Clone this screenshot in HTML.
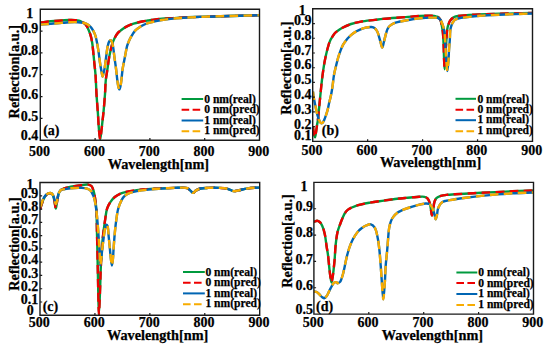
<!DOCTYPE html>
<html><head><meta charset="utf-8"><style>
html,body{margin:0;padding:0;background:#fff;}
svg{display:block;}
text{font-family:"Liberation Serif",serif;font-weight:bold;font-size:14px;fill:#000;stroke:#000;stroke-width:0.25px;}
</style></head><body>
<svg width="550" height="351" viewBox="0 0 550 351">
<rect width="550" height="351" fill="#fff"/>
<clipPath id="clipa"><rect x="40.30" y="6.20" width="219.20" height="134.00"/></clipPath>
<g clip-path="url(#clipa)" fill="none" stroke-width="2.40"><path d="M40.30,22.50 C43.83,22.10 47.34,21.63 50.90,21.30 C54.50,20.96 58.53,20.73 61.80,20.50 C64.48,20.31 66.79,20.06 69.10,20.00 C71.17,19.95 73.23,19.95 75.00,20.10 C76.47,20.22 77.78,20.35 79.00,20.70 C80.09,21.01 81.02,21.48 82.00,22.00 C83.02,22.54 84.16,23.13 85.00,23.90 C85.81,24.64 86.43,25.57 87.00,26.50 C87.57,27.44 87.93,28.42 88.40,29.50 C88.93,30.73 89.52,32.12 90.00,33.50 C90.50,34.94 90.93,36.41 91.30,38.00 C91.71,39.73 92.00,41.50 92.30,43.50 C92.65,45.89 92.90,48.52 93.20,51.40 C93.56,54.85 93.92,58.98 94.30,62.80 C94.69,66.68 95.16,70.09 95.50,74.50 C95.94,80.19 96.10,87.61 96.50,94.10 C96.90,100.51 97.49,107.13 97.90,113.20 C98.28,118.72 98.46,124.30 98.90,129.00 C99.26,132.81 99.76,139.30 100.20,139.30 C100.62,139.30 101.11,133.16 101.50,130.00 C101.91,126.73 102.26,123.01 102.60,120.00 C102.88,117.51 103.11,116.04 103.40,113.20 C103.88,108.44 104.59,99.99 105.00,94.10 C105.35,89.05 105.36,84.29 105.80,80.00 C106.17,76.37 106.77,73.55 107.30,70.00 C107.90,65.97 108.53,60.83 109.20,57.10 C109.71,54.22 110.22,51.91 110.80,49.50 C111.33,47.29 111.81,45.21 112.50,43.20 C113.16,41.28 113.89,39.43 114.80,37.70 C115.69,36.00 116.77,34.21 117.90,32.90 C118.86,31.79 119.87,31.08 121.00,30.20 C122.25,29.24 123.84,28.16 125.10,27.40 C126.10,26.79 126.79,26.42 127.90,25.90 C129.45,25.17 131.48,24.28 133.60,23.60 C136.15,22.78 139.61,22.04 142.20,21.50 C144.31,21.06 146.05,20.81 148.00,20.50 C149.98,20.18 151.87,19.87 154.00,19.60 C156.43,19.29 158.98,19.04 161.80,18.80 C165.13,18.52 169.07,18.33 172.70,18.10 C176.33,17.87 179.60,17.59 183.60,17.40 C188.51,17.17 193.71,17.09 200.00,16.90 C208.50,16.64 220.04,16.28 230.00,16.00 C239.87,15.72 249.67,15.47 259.50,15.20" stroke="#009a3e"/><path d="M40.30,22.50 C43.83,22.10 47.34,21.63 50.90,21.30 C54.50,20.96 58.53,20.73 61.80,20.50 C64.48,20.31 66.79,20.06 69.10,20.00 C71.17,19.95 73.23,19.95 75.00,20.10 C76.47,20.22 77.78,20.35 79.00,20.70 C80.09,21.01 81.02,21.48 82.00,22.00 C83.02,22.54 84.16,23.13 85.00,23.90 C85.81,24.64 86.43,25.57 87.00,26.50 C87.57,27.44 87.93,28.42 88.40,29.50 C88.93,30.73 89.52,32.12 90.00,33.50 C90.50,34.94 90.93,36.41 91.30,38.00 C91.71,39.73 92.00,41.50 92.30,43.50 C92.65,45.89 92.90,48.52 93.20,51.40 C93.56,54.85 93.92,58.98 94.30,62.80 C94.69,66.68 95.16,70.09 95.50,74.50 C95.94,80.19 96.10,87.61 96.50,94.10 C96.90,100.51 97.49,107.13 97.90,113.20 C98.28,118.72 98.46,124.30 98.90,129.00 C99.26,132.81 99.76,139.30 100.20,139.30 C100.62,139.30 101.11,133.16 101.50,130.00 C101.91,126.73 102.26,123.01 102.60,120.00 C102.88,117.51 103.11,116.04 103.40,113.20 C103.88,108.44 104.59,99.99 105.00,94.10 C105.35,89.05 105.36,84.29 105.80,80.00 C106.17,76.37 106.77,73.55 107.30,70.00 C107.90,65.97 108.53,60.83 109.20,57.10 C109.71,54.22 110.22,51.91 110.80,49.50 C111.33,47.29 111.81,45.21 112.50,43.20 C113.16,41.28 113.89,39.43 114.80,37.70 C115.69,36.00 116.77,34.21 117.90,32.90 C118.86,31.79 119.87,31.08 121.00,30.20 C122.25,29.24 123.84,28.16 125.10,27.40 C126.10,26.79 126.79,26.42 127.90,25.90 C129.45,25.17 131.48,24.28 133.60,23.60 C136.15,22.78 139.61,22.04 142.20,21.50 C144.31,21.06 146.05,20.81 148.00,20.50 C149.98,20.18 151.87,19.87 154.00,19.60 C156.43,19.29 158.98,19.04 161.80,18.80 C165.13,18.52 169.07,18.33 172.70,18.10 C176.33,17.87 179.60,17.59 183.60,17.40 C188.51,17.17 193.71,17.09 200.00,16.90 C208.50,16.64 220.04,16.28 230.00,16.00 C239.87,15.72 249.67,15.47 259.50,15.20" stroke="#ee0000" stroke-dasharray="8.6 5.4"/><path d="M40.30,24.60 C43.83,24.37 47.34,24.18 50.90,23.90 C54.51,23.62 58.53,23.18 61.80,22.90 C64.48,22.67 66.57,22.42 69.10,22.30 C71.82,22.17 75.09,22.08 77.60,22.20 C79.61,22.30 81.41,22.49 83.00,22.80 C84.30,23.06 85.40,23.30 86.50,23.80 C87.60,24.30 88.74,25.05 89.60,25.80 C90.37,26.47 90.86,27.11 91.50,28.00 C92.35,29.18 93.41,30.98 94.10,32.40 C94.70,33.63 95.10,34.72 95.50,36.00 C95.94,37.40 96.22,38.67 96.60,40.50 C97.19,43.33 97.94,47.72 98.50,51.40 C99.07,55.15 99.46,59.26 100.00,62.80 C100.47,65.90 101.01,68.99 101.50,71.50 C101.87,73.43 102.21,76.59 102.60,76.60 C102.98,76.61 103.45,73.43 103.80,72.00 C104.10,70.76 104.33,70.01 104.60,68.50 C105.09,65.80 105.57,60.90 106.10,57.10 C106.63,53.30 107.10,48.61 107.80,45.70 C108.25,43.83 108.67,42.12 109.30,41.20 C109.66,40.67 110.11,40.17 110.50,40.20 C110.91,40.23 111.36,40.89 111.70,41.50 C112.24,42.46 112.54,43.94 112.90,45.70 C113.49,48.55 113.88,53.30 114.40,57.10 C114.92,60.90 115.52,64.69 116.00,68.50 C116.48,72.32 116.88,76.79 117.30,80.00 C117.61,82.33 117.78,84.30 118.20,86.00 C118.53,87.31 119.02,89.41 119.40,89.40 C119.78,89.39 120.19,87.31 120.50,86.00 C120.90,84.30 121.09,82.33 121.40,80.00 C121.82,76.79 122.12,72.31 122.70,68.50 C123.28,64.68 124.15,60.90 124.90,57.10 C125.65,53.30 126.33,48.68 127.20,45.70 C127.79,43.70 128.48,42.25 129.10,40.80 C129.61,39.61 129.90,38.84 130.60,37.60 C131.67,35.69 133.43,32.49 135.20,30.60 C136.78,28.92 138.71,27.73 140.50,26.60 C142.15,25.56 143.77,24.72 145.50,24.00 C147.24,23.28 148.77,22.86 150.90,22.30 C153.89,21.52 158.15,20.62 161.80,20.00 C165.42,19.39 169.06,18.97 172.70,18.60 C176.33,18.23 179.60,18.06 183.60,17.80 C188.51,17.49 193.71,17.17 200.00,16.90 C208.50,16.54 220.04,16.28 230.00,16.00 C239.87,15.72 249.67,15.47 259.50,15.20" stroke="#0065b3"/><path d="M40.30,24.60 C43.83,24.37 47.34,24.18 50.90,23.90 C54.51,23.62 58.53,23.18 61.80,22.90 C64.48,22.67 66.57,22.42 69.10,22.30 C71.82,22.17 75.09,22.08 77.60,22.20 C79.61,22.30 81.41,22.49 83.00,22.80 C84.30,23.06 85.40,23.30 86.50,23.80 C87.60,24.30 88.74,25.05 89.60,25.80 C90.37,26.47 90.86,27.11 91.50,28.00 C92.35,29.18 93.41,30.98 94.10,32.40 C94.70,33.63 95.10,34.72 95.50,36.00 C95.94,37.40 96.22,38.67 96.60,40.50 C97.19,43.33 97.94,47.72 98.50,51.40 C99.07,55.15 99.46,59.26 100.00,62.80 C100.47,65.90 101.01,68.99 101.50,71.50 C101.87,73.43 102.21,76.59 102.60,76.60 C102.98,76.61 103.45,73.43 103.80,72.00 C104.10,70.76 104.33,70.01 104.60,68.50 C105.09,65.80 105.57,60.90 106.10,57.10 C106.63,53.30 107.10,48.61 107.80,45.70 C108.25,43.83 108.67,42.12 109.30,41.20 C109.66,40.67 110.11,40.17 110.50,40.20 C110.91,40.23 111.36,40.89 111.70,41.50 C112.24,42.46 112.54,43.94 112.90,45.70 C113.49,48.55 113.88,53.30 114.40,57.10 C114.92,60.90 115.52,64.69 116.00,68.50 C116.48,72.32 116.88,76.79 117.30,80.00 C117.61,82.33 117.78,84.30 118.20,86.00 C118.53,87.31 119.02,89.41 119.40,89.40 C119.78,89.39 120.19,87.31 120.50,86.00 C120.90,84.30 121.09,82.33 121.40,80.00 C121.82,76.79 122.12,72.31 122.70,68.50 C123.28,64.68 124.15,60.90 124.90,57.10 C125.65,53.30 126.33,48.68 127.20,45.70 C127.79,43.70 128.48,42.25 129.10,40.80 C129.61,39.61 129.90,38.84 130.60,37.60 C131.67,35.69 133.43,32.49 135.20,30.60 C136.78,28.92 138.71,27.73 140.50,26.60 C142.15,25.56 143.77,24.72 145.50,24.00 C147.24,23.28 148.77,22.86 150.90,22.30 C153.89,21.52 158.15,20.62 161.80,20.00 C165.42,19.39 169.06,18.97 172.70,18.60 C176.33,18.23 179.60,18.06 183.60,17.80 C188.51,17.49 193.71,17.17 200.00,16.90 C208.50,16.54 220.04,16.28 230.00,16.00 C239.87,15.72 249.67,15.47 259.50,15.20" stroke="#f8ac00" stroke-dasharray="8.6 5.4"/></g>
<path d="M40.30,9.20 H259.50 V140.20 H40.30 Z" fill="none" stroke="#1a1a1a" stroke-width="1.4"/>
<path d="M95.10,140.20 v-2.2 M149.90,140.20 v-2.2 M204.70,140.20 v-2.2 M40.30,118.37 h2.2 M40.30,96.53 h2.2 M40.30,74.70 h2.2 M40.30,52.87 h2.2 M40.30,31.03 h2.2 " stroke="#1a1a1a" stroke-width="1.2" fill="none"/>
<text x="33.30" y="17.60" text-anchor="end">1</text>
<text x="38.30" y="32.60" text-anchor="end">0.9</text>
<text x="38.30" y="54.60" text-anchor="end">0.8</text>
<text x="38.30" y="76.60" text-anchor="end">0.7</text>
<text x="38.30" y="98.60" text-anchor="end">0.6</text>
<text x="38.30" y="120.60" text-anchor="end">0.5</text>
<text x="38.30" y="139.60" text-anchor="end">0.4</text>
<text x="39.60" y="156.00" text-anchor="middle">500</text>
<text x="94.40" y="156.00" text-anchor="middle">600</text>
<text x="149.20" y="156.00" text-anchor="middle">700</text>
<text x="204.00" y="156.00" text-anchor="middle">800</text>
<text x="258.80" y="156.00" text-anchor="middle">900</text>
<text x="107.70" y="169.30" style="font-size:14.25px">Wavelength[nm]</text>
<text transform="translate(19.30,118.40) rotate(-90)" style="font-size:14.25px">Reflection[a.u.]</text>
<text x="43.20" y="135.00">(a)</text>
<line x1="181.60" y1="99.00" x2="203.20" y2="99.00" stroke="#009a3e" stroke-width="2.00"/>
<text x="204.20" y="103.00" style="font-size:11.6px;stroke-width:0.25px">0 nm(real)</text>
<line x1="181.60" y1="109.80" x2="203.20" y2="109.80" stroke="#ee0000" stroke-width="2.00" stroke-dasharray="7.6 3.4"/>
<text x="204.20" y="113.30" style="font-size:11.6px;stroke-width:0.25px">0 nm(pred)</text>
<line x1="181.60" y1="120.50" x2="203.20" y2="120.50" stroke="#0065b3" stroke-width="2.00"/>
<text x="204.20" y="123.50" style="font-size:11.6px;stroke-width:0.25px">1 nm(real)</text>
<line x1="181.60" y1="131.30" x2="203.20" y2="131.30" stroke="#f8ac00" stroke-width="2.00" stroke-dasharray="7.6 3.4"/>
<text x="204.20" y="134.00" style="font-size:11.6px;stroke-width:0.25px">1 nm(pred)</text>
<clipPath id="clipb"><rect x="312.70" y="5.80" width="219.80" height="135.60"/></clipPath>
<g clip-path="url(#clipb)" fill="none" stroke-width="2.40"><path d="M313.00,127.00 C313.33,129.33 313.58,132.11 314.00,134.00 C314.29,135.32 314.68,137.32 315.00,137.30 C315.43,137.28 315.84,133.16 316.20,131.00 C316.58,128.73 316.89,125.86 317.20,124.00 C317.41,122.76 317.60,122.28 317.80,120.90 C318.19,118.21 318.60,112.89 319.00,108.90 C319.40,104.92 319.80,100.98 320.20,97.00 C320.60,93.01 320.98,88.83 321.40,85.00 C321.78,81.49 322.14,78.33 322.60,74.90 C323.07,71.33 323.60,67.46 324.20,64.00 C324.75,60.82 325.34,57.82 326.00,54.90 C326.62,52.17 327.29,49.45 328.00,47.00 C328.63,44.82 329.19,42.73 330.00,40.90 C330.72,39.27 331.63,37.86 332.50,36.50 C333.30,35.24 334.01,34.04 335.00,33.00 C336.01,31.94 337.31,31.05 338.50,30.20 C339.64,29.39 340.53,28.78 342.00,28.00 C344.27,26.79 347.88,25.06 351.00,24.00 C354.17,22.92 357.29,22.25 360.90,21.60 C365.14,20.83 370.90,20.40 374.90,19.90 C377.91,19.53 379.48,19.24 382.80,18.90 C388.43,18.32 398.87,17.65 405.60,17.10 C410.95,16.67 415.48,16.11 420.00,15.90 C424.02,15.72 428.94,15.72 431.40,15.80 C432.57,15.84 433.15,15.87 434.00,16.00 C434.85,16.13 435.74,16.36 436.50,16.60 C437.16,16.81 437.77,16.93 438.30,17.30 C438.88,17.70 439.38,18.37 439.80,19.00 C440.22,19.64 440.53,20.33 440.80,21.10 C441.11,21.97 441.29,23.01 441.50,24.00 C441.72,25.01 441.90,25.86 442.10,27.10 C442.40,28.92 442.78,31.69 443.00,33.90 C443.21,35.99 443.28,37.72 443.40,40.00 C443.55,42.92 443.68,46.67 443.80,50.00 C443.92,53.33 443.96,56.74 444.10,60.00 C444.23,63.13 444.42,69.20 444.60,69.20 C444.78,69.20 445.02,63.13 445.20,60.00 C445.39,56.74 445.50,53.33 445.70,50.00 C445.90,46.67 446.20,42.98 446.40,40.00 C446.56,37.60 446.63,35.47 446.80,33.50 C446.94,31.86 447.10,30.28 447.30,29.00 C447.45,28.04 447.59,27.28 447.80,26.50 C447.99,25.79 448.24,25.23 448.50,24.50 C448.82,23.60 449.13,22.38 449.60,21.50 C450.02,20.71 450.55,20.00 451.10,19.40 C451.60,18.85 452.14,18.43 452.70,18.00 C453.27,17.56 453.77,17.12 454.50,16.80 C455.45,16.39 456.38,16.25 458.00,16.00 C461.53,15.45 468.78,14.96 475.00,14.60 C482.53,14.17 491.12,14.07 500.00,13.80 C510.12,13.50 521.67,13.20 532.50,12.90" stroke="#009a3e"/><path d="M313.00,127.00 C313.33,129.33 313.58,132.11 314.00,134.00 C314.29,135.32 314.68,137.32 315.00,137.30 C315.43,137.28 315.84,133.16 316.20,131.00 C316.58,128.73 316.89,125.86 317.20,124.00 C317.41,122.76 317.60,122.28 317.80,120.90 C318.19,118.21 318.60,112.89 319.00,108.90 C319.40,104.92 319.80,100.98 320.20,97.00 C320.60,93.01 320.98,88.83 321.40,85.00 C321.78,81.49 322.14,78.33 322.60,74.90 C323.07,71.33 323.60,67.46 324.20,64.00 C324.75,60.82 325.34,57.82 326.00,54.90 C326.62,52.17 327.29,49.45 328.00,47.00 C328.63,44.82 329.19,42.73 330.00,40.90 C330.72,39.27 331.63,37.86 332.50,36.50 C333.30,35.24 334.01,34.04 335.00,33.00 C336.01,31.94 337.31,31.05 338.50,30.20 C339.64,29.39 340.53,28.78 342.00,28.00 C344.27,26.79 347.88,25.06 351.00,24.00 C354.17,22.92 357.29,22.25 360.90,21.60 C365.14,20.83 370.90,20.40 374.90,19.90 C377.91,19.53 379.48,19.24 382.80,18.90 C388.43,18.32 398.87,17.65 405.60,17.10 C410.95,16.67 415.48,16.11 420.00,15.90 C424.02,15.72 428.94,15.72 431.40,15.80 C432.57,15.84 433.15,15.87 434.00,16.00 C434.85,16.13 435.74,16.36 436.50,16.60 C437.16,16.81 437.77,16.93 438.30,17.30 C438.88,17.70 439.38,18.37 439.80,19.00 C440.22,19.64 440.53,20.33 440.80,21.10 C441.11,21.97 441.29,23.01 441.50,24.00 C441.72,25.01 441.90,25.86 442.10,27.10 C442.40,28.92 442.78,31.69 443.00,33.90 C443.21,35.99 443.28,37.72 443.40,40.00 C443.55,42.92 443.68,46.67 443.80,50.00 C443.92,53.33 443.96,56.74 444.10,60.00 C444.23,63.13 444.42,69.20 444.60,69.20 C444.78,69.20 445.02,63.13 445.20,60.00 C445.39,56.74 445.50,53.33 445.70,50.00 C445.90,46.67 446.20,42.98 446.40,40.00 C446.56,37.60 446.63,35.47 446.80,33.50 C446.94,31.86 447.10,30.28 447.30,29.00 C447.45,28.04 447.59,27.28 447.80,26.50 C447.99,25.79 448.24,25.23 448.50,24.50 C448.82,23.60 449.13,22.38 449.60,21.50 C450.02,20.71 450.55,20.00 451.10,19.40 C451.60,18.85 452.14,18.43 452.70,18.00 C453.27,17.56 453.77,17.12 454.50,16.80 C455.45,16.39 456.38,16.25 458.00,16.00 C461.53,15.45 468.78,14.96 475.00,14.60 C482.53,14.17 491.12,14.07 500.00,13.80 C510.12,13.50 521.67,13.20 532.50,12.90" stroke="#ee0000" stroke-dasharray="8.6 5.4"/><path d="M313.00,91.60 C313.20,93.40 313.31,95.17 313.60,97.00 C313.90,98.93 314.40,100.92 314.80,102.90 C315.20,104.89 315.57,106.90 316.00,108.90 C316.43,110.90 316.87,113.02 317.40,114.90 C317.88,116.60 318.47,118.36 319.00,119.70 C319.40,120.71 319.72,121.67 320.20,122.30 C320.56,122.76 320.98,123.24 321.40,123.30 C321.78,123.36 322.24,123.10 322.60,122.80 C323.07,122.40 323.38,121.74 323.80,120.90 C324.51,119.48 325.41,116.91 326.10,114.90 C326.78,112.91 327.40,110.91 327.90,108.90 C328.40,106.91 328.65,104.89 329.10,102.90 C329.55,100.92 330.15,98.98 330.60,97.00 C331.05,95.01 331.45,93.00 331.80,91.00 C332.15,89.00 332.38,87.26 332.70,85.00 C333.11,82.07 333.39,78.32 334.00,74.90 C334.64,71.32 335.63,67.46 336.50,64.00 C337.30,60.82 337.97,57.98 339.00,54.90 C340.10,51.61 341.61,47.50 343.00,44.90 C343.97,43.07 344.96,41.86 346.00,40.50 C346.97,39.24 347.88,38.13 349.00,37.00 C350.20,35.79 351.62,34.52 353.00,33.50 C354.30,32.54 355.74,31.68 357.00,31.00 C358.05,30.43 358.83,30.07 360.00,29.60 C361.58,28.97 363.78,28.13 365.70,27.70 C367.58,27.28 369.76,26.82 371.40,27.00 C372.70,27.14 373.86,27.53 374.80,28.20 C375.73,28.87 376.43,30.02 377.00,31.00 C377.54,31.92 377.77,32.68 378.20,33.90 C378.90,35.89 379.79,39.46 380.50,41.90 C381.10,43.96 381.63,47.60 382.20,47.60 C382.77,47.60 383.31,44.03 383.90,41.90 C384.64,39.23 385.44,35.25 386.20,32.80 C386.73,31.08 387.16,29.70 387.80,28.50 C388.33,27.51 388.76,26.79 389.60,26.00 C390.71,24.95 392.24,23.91 394.20,23.10 C397.08,21.91 401.56,21.28 405.60,20.50 C410.11,19.63 415.41,18.68 420.00,18.20 C424.17,17.76 428.79,17.62 432.00,17.60 C434.15,17.59 436.15,17.51 437.40,17.80 C438.11,17.96 438.51,18.18 439.00,18.50 C439.51,18.84 439.97,19.22 440.40,19.80 C440.99,20.59 441.52,21.85 442.00,23.00 C442.53,24.27 443.02,25.79 443.40,27.10 C443.74,28.28 443.98,29.36 444.20,30.50 C444.42,31.63 444.56,32.60 444.70,33.90 C444.88,35.64 444.97,37.72 445.10,40.00 C445.27,42.92 445.40,46.67 445.60,50.00 C445.80,53.33 446.01,56.59 446.30,60.00 C446.60,63.58 447.03,71.00 447.40,71.00 C447.77,71.00 448.23,63.58 448.50,60.00 C448.76,56.59 448.78,53.33 449.00,50.00 C449.22,46.67 449.60,43.21 449.80,40.00 C449.99,37.03 449.99,33.61 450.20,31.40 C450.33,30.00 450.46,29.05 450.70,28.00 C450.91,27.07 451.20,26.24 451.50,25.40 C451.80,24.58 452.12,23.74 452.50,23.00 C452.86,22.31 453.21,21.66 453.70,21.10 C454.20,20.53 454.82,20.02 455.50,19.60 C456.24,19.14 456.71,18.85 458.00,18.50 C461.66,17.49 472.42,16.46 480.00,15.80 C488.06,15.10 496.47,14.88 505.00,14.50 C513.95,14.10 523.33,13.83 532.50,13.50" stroke="#0065b3"/><path d="M313.00,91.60 C313.20,93.40 313.31,95.17 313.60,97.00 C313.90,98.93 314.40,100.92 314.80,102.90 C315.20,104.89 315.57,106.90 316.00,108.90 C316.43,110.90 316.87,113.02 317.40,114.90 C317.88,116.60 318.47,118.36 319.00,119.70 C319.40,120.71 319.72,121.67 320.20,122.30 C320.56,122.76 320.98,123.24 321.40,123.30 C321.78,123.36 322.24,123.10 322.60,122.80 C323.07,122.40 323.38,121.74 323.80,120.90 C324.51,119.48 325.41,116.91 326.10,114.90 C326.78,112.91 327.40,110.91 327.90,108.90 C328.40,106.91 328.65,104.89 329.10,102.90 C329.55,100.92 330.15,98.98 330.60,97.00 C331.05,95.01 331.45,93.00 331.80,91.00 C332.15,89.00 332.38,87.26 332.70,85.00 C333.11,82.07 333.39,78.32 334.00,74.90 C334.64,71.32 335.63,67.46 336.50,64.00 C337.30,60.82 337.97,57.98 339.00,54.90 C340.10,51.61 341.61,47.50 343.00,44.90 C343.97,43.07 344.96,41.86 346.00,40.50 C346.97,39.24 347.88,38.13 349.00,37.00 C350.20,35.79 351.62,34.52 353.00,33.50 C354.30,32.54 355.74,31.68 357.00,31.00 C358.05,30.43 358.83,30.07 360.00,29.60 C361.58,28.97 363.78,28.13 365.70,27.70 C367.58,27.28 369.76,26.82 371.40,27.00 C372.70,27.14 373.86,27.53 374.80,28.20 C375.73,28.87 376.43,30.02 377.00,31.00 C377.54,31.92 377.77,32.68 378.20,33.90 C378.90,35.89 379.79,39.46 380.50,41.90 C381.10,43.96 381.63,47.60 382.20,47.60 C382.77,47.60 383.31,44.03 383.90,41.90 C384.64,39.23 385.44,35.25 386.20,32.80 C386.73,31.08 387.16,29.70 387.80,28.50 C388.33,27.51 388.76,26.79 389.60,26.00 C390.71,24.95 392.24,23.91 394.20,23.10 C397.08,21.91 401.56,21.28 405.60,20.50 C410.11,19.63 415.41,18.68 420.00,18.20 C424.17,17.76 428.79,17.62 432.00,17.60 C434.15,17.59 436.15,17.51 437.40,17.80 C438.11,17.96 438.51,18.18 439.00,18.50 C439.51,18.84 439.97,19.22 440.40,19.80 C440.99,20.59 441.52,21.85 442.00,23.00 C442.53,24.27 443.02,25.79 443.40,27.10 C443.74,28.28 443.98,29.36 444.20,30.50 C444.42,31.63 444.56,32.60 444.70,33.90 C444.88,35.64 444.97,37.72 445.10,40.00 C445.27,42.92 445.40,46.67 445.60,50.00 C445.80,53.33 446.01,56.59 446.30,60.00 C446.60,63.58 447.03,71.00 447.40,71.00 C447.77,71.00 448.23,63.58 448.50,60.00 C448.76,56.59 448.78,53.33 449.00,50.00 C449.22,46.67 449.60,43.21 449.80,40.00 C449.99,37.03 449.99,33.61 450.20,31.40 C450.33,30.00 450.46,29.05 450.70,28.00 C450.91,27.07 451.20,26.24 451.50,25.40 C451.80,24.58 452.12,23.74 452.50,23.00 C452.86,22.31 453.21,21.66 453.70,21.10 C454.20,20.53 454.82,20.02 455.50,19.60 C456.24,19.14 456.71,18.85 458.00,18.50 C461.66,17.49 472.42,16.46 480.00,15.80 C488.06,15.10 496.47,14.88 505.00,14.50 C513.95,14.10 523.33,13.83 532.50,13.50" stroke="#f8ac00" stroke-dasharray="8.6 5.4"/></g>
<path d="M312.70,8.80 H532.50 V141.40 H312.70 Z" fill="none" stroke="#1a1a1a" stroke-width="1.4"/>
<path d="M367.65,141.40 v-2.2 M422.60,141.40 v-2.2 M477.55,141.40 v-2.2 M312.70,126.67 h2.2 M312.70,111.93 h2.2 M312.70,97.20 h2.2 M312.70,82.47 h2.2 M312.70,67.73 h2.2 M312.70,53.00 h2.2 M312.70,38.27 h2.2 M312.70,23.53 h2.2 " stroke="#1a1a1a" stroke-width="1.2" fill="none"/>
<text x="305.80" y="15.30" text-anchor="end">1</text>
<text x="311.60" y="24.80" text-anchor="end">0.9</text>
<text x="311.60" y="39.70" text-anchor="end">0.8</text>
<text x="311.60" y="54.50" text-anchor="end">0.7</text>
<text x="311.60" y="69.40" text-anchor="end">0.6</text>
<text x="311.60" y="84.20" text-anchor="end">0.5</text>
<text x="311.60" y="99.10" text-anchor="end">0.4</text>
<text x="311.60" y="113.90" text-anchor="end">0.3</text>
<text x="311.60" y="128.80" text-anchor="end">0.2</text>
<text x="311.60" y="140.30" text-anchor="end">0.1</text>
<text x="312.00" y="154.80" text-anchor="middle">500</text>
<text x="366.95" y="154.80" text-anchor="middle">600</text>
<text x="421.90" y="154.80" text-anchor="middle">700</text>
<text x="476.85" y="154.80" text-anchor="middle">800</text>
<text x="531.80" y="154.80" text-anchor="middle">900</text>
<text x="379.90" y="167.00" style="font-size:14.25px">Wavelength[nm]</text>
<text transform="translate(290.80,114.80) rotate(-90)" style="font-size:14.25px">Reflection[a.u.]</text>
<text x="321.80" y="134.80">(b)</text>
<line x1="455.50" y1="98.80" x2="476.00" y2="98.80" stroke="#009a3e" stroke-width="2.00"/>
<text x="477.40" y="102.60" style="font-size:11.6px;stroke-width:0.25px">0 nm(real)</text>
<line x1="455.50" y1="109.70" x2="476.00" y2="109.70" stroke="#ee0000" stroke-width="2.00" stroke-dasharray="7.6 3.4"/>
<text x="477.40" y="113.00" style="font-size:11.6px;stroke-width:0.25px">0 nm(pred)</text>
<line x1="455.50" y1="120.20" x2="476.00" y2="120.20" stroke="#0065b3" stroke-width="2.00"/>
<text x="477.40" y="123.40" style="font-size:11.6px;stroke-width:0.25px">1 nm(real)</text>
<line x1="455.50" y1="131.20" x2="476.00" y2="131.20" stroke="#f8ac00" stroke-width="2.00" stroke-dasharray="7.6 3.4"/>
<text x="477.40" y="133.80" style="font-size:11.6px;stroke-width:0.25px">1 nm(pred)</text>
<clipPath id="clipc"><rect x="40.00" y="179.50" width="219.70" height="135.80"/></clipPath>
<g clip-path="url(#clipc)" fill="none" stroke-width="2.40"><path d="M40.20,209.50 C40.63,208.00 41.04,206.50 41.50,205.00 C41.97,203.50 42.41,201.94 43.00,200.50 C43.58,199.11 44.19,197.62 45.00,196.50 C45.72,195.50 46.54,194.55 47.50,194.00 C48.42,193.48 49.72,193.05 50.60,193.20 C51.34,193.33 51.98,193.82 52.50,194.50 C53.24,195.48 53.59,197.41 54.00,199.00 C54.44,200.73 54.68,202.81 55.00,204.50 C55.27,205.94 55.53,208.50 55.80,208.50 C56.07,208.50 56.34,205.94 56.60,204.50 C56.91,202.81 57.15,200.82 57.50,199.00 C57.85,197.19 58.11,195.11 58.70,193.60 C59.18,192.38 59.65,191.35 60.50,190.50 C61.43,189.58 62.75,188.98 64.20,188.40 C66.02,187.67 68.24,187.28 70.70,186.80 C73.85,186.18 78.42,185.58 81.60,185.20 C84.07,184.91 86.41,184.32 88.20,184.60 C89.52,184.81 90.64,185.14 91.50,186.00 C92.55,187.05 93.01,189.00 93.60,190.90 C94.36,193.35 94.85,196.53 95.30,199.60 C95.81,203.02 96.14,206.37 96.40,210.50 C96.74,215.89 96.75,223.11 96.90,229.20 C97.05,235.03 97.16,240.17 97.30,246.30 C97.46,253.42 97.64,262.04 97.80,269.40 C97.94,276.15 98.03,281.88 98.20,288.80 C98.39,296.77 98.58,314.50 98.90,314.50 C99.22,314.50 99.79,296.77 100.10,288.80 C100.37,281.88 100.44,275.38 100.70,269.40 C100.92,264.24 101.17,260.02 101.50,255.00 C101.86,249.50 102.22,243.44 102.80,237.70 C103.38,231.98 104.21,225.78 105.00,220.60 C105.66,216.27 106.00,212.06 107.10,208.70 C107.98,206.02 109.14,203.81 110.50,201.80 C111.74,199.96 113.15,198.36 114.80,197.00 C116.48,195.62 118.57,194.44 120.50,193.60 C122.28,192.82 123.77,192.50 125.90,192.00 C128.89,191.30 133.16,190.58 136.80,190.10 C140.42,189.62 144.06,189.38 147.70,189.10 C151.33,188.82 154.60,188.59 158.60,188.40 C163.51,188.17 170.90,188.07 175.00,187.90 C177.46,187.80 178.89,187.56 180.90,187.60 C183.02,187.64 185.68,187.49 187.40,188.20 C188.79,188.77 189.69,190.07 190.70,190.90 C191.57,191.61 192.25,192.89 193.10,192.90 C194.06,192.91 195.03,191.11 196.20,190.40 C197.47,189.62 198.82,188.92 200.50,188.50 C202.66,187.96 205.41,188.01 208.20,187.90 C211.52,187.77 215.69,187.72 219.10,187.90 C222.14,188.06 225.11,188.19 227.70,188.80 C229.95,189.33 231.80,190.90 233.80,191.10 C235.63,191.28 237.24,190.57 239.20,190.20 C241.54,189.76 244.32,189.00 246.90,188.60 C249.46,188.20 252.29,187.96 254.60,187.80 C256.47,187.67 258.00,187.67 259.70,187.60" stroke="#009a3e"/><path d="M40.20,209.50 C40.63,208.00 41.04,206.50 41.50,205.00 C41.97,203.50 42.41,201.94 43.00,200.50 C43.58,199.11 44.19,197.62 45.00,196.50 C45.72,195.50 46.54,194.55 47.50,194.00 C48.42,193.48 49.72,193.05 50.60,193.20 C51.34,193.33 51.98,193.82 52.50,194.50 C53.24,195.48 53.59,197.41 54.00,199.00 C54.44,200.73 54.68,202.81 55.00,204.50 C55.27,205.94 55.53,208.50 55.80,208.50 C56.07,208.50 56.34,205.94 56.60,204.50 C56.91,202.81 57.15,200.82 57.50,199.00 C57.85,197.19 58.11,195.11 58.70,193.60 C59.18,192.38 59.65,191.35 60.50,190.50 C61.43,189.58 62.75,188.98 64.20,188.40 C66.02,187.67 68.24,187.28 70.70,186.80 C73.85,186.18 78.42,185.58 81.60,185.20 C84.07,184.91 86.41,184.32 88.20,184.60 C89.52,184.81 90.64,185.14 91.50,186.00 C92.55,187.05 93.01,189.00 93.60,190.90 C94.36,193.35 94.85,196.53 95.30,199.60 C95.81,203.02 96.14,206.37 96.40,210.50 C96.74,215.89 96.75,223.11 96.90,229.20 C97.05,235.03 97.16,240.17 97.30,246.30 C97.46,253.42 97.64,262.04 97.80,269.40 C97.94,276.15 98.03,281.88 98.20,288.80 C98.39,296.77 98.58,314.50 98.90,314.50 C99.22,314.50 99.79,296.77 100.10,288.80 C100.37,281.88 100.44,275.38 100.70,269.40 C100.92,264.24 101.17,260.02 101.50,255.00 C101.86,249.50 102.22,243.44 102.80,237.70 C103.38,231.98 104.21,225.78 105.00,220.60 C105.66,216.27 106.00,212.06 107.10,208.70 C107.98,206.02 109.14,203.81 110.50,201.80 C111.74,199.96 113.15,198.36 114.80,197.00 C116.48,195.62 118.57,194.44 120.50,193.60 C122.28,192.82 123.77,192.50 125.90,192.00 C128.89,191.30 133.16,190.58 136.80,190.10 C140.42,189.62 144.06,189.38 147.70,189.10 C151.33,188.82 154.60,188.59 158.60,188.40 C163.51,188.17 170.90,188.07 175.00,187.90 C177.46,187.80 178.89,187.56 180.90,187.60 C183.02,187.64 185.68,187.49 187.40,188.20 C188.79,188.77 189.69,190.07 190.70,190.90 C191.57,191.61 192.25,192.89 193.10,192.90 C194.06,192.91 195.03,191.11 196.20,190.40 C197.47,189.62 198.82,188.92 200.50,188.50 C202.66,187.96 205.41,188.01 208.20,187.90 C211.52,187.77 215.69,187.72 219.10,187.90 C222.14,188.06 225.11,188.19 227.70,188.80 C229.95,189.33 231.80,190.90 233.80,191.10 C235.63,191.28 237.24,190.57 239.20,190.20 C241.54,189.76 244.32,189.00 246.90,188.60 C249.46,188.20 252.29,187.96 254.60,187.80 C256.47,187.67 258.00,187.67 259.70,187.60" stroke="#ee0000" stroke-dasharray="8.6 5.4"/><path d="M40.20,207.00 C40.63,205.83 41.05,204.71 41.50,203.50 C41.98,202.21 42.41,200.77 43.00,199.50 C43.58,198.27 44.20,196.98 45.00,196.00 C45.73,195.11 46.56,194.30 47.50,193.80 C48.43,193.31 49.70,192.80 50.60,193.00 C51.45,193.19 52.22,194.00 52.80,194.80 C53.48,195.75 53.80,197.23 54.20,198.50 C54.61,199.80 54.88,201.50 55.20,202.50 C55.40,203.13 55.58,203.99 55.80,204.00 C56.02,204.01 56.29,203.11 56.50,202.50 C56.80,201.64 57.00,200.53 57.30,199.30 C57.71,197.63 58.00,195.09 58.70,193.40 C59.30,191.97 59.98,190.35 61.00,189.70 C61.88,189.14 62.95,189.48 64.20,189.30 C65.99,189.04 68.25,188.44 70.70,188.20 C73.86,187.89 78.59,187.72 81.60,187.90 C83.75,188.03 85.55,188.19 87.10,188.70 C88.35,189.11 89.35,189.46 90.30,190.40 C91.61,191.69 92.72,194.08 93.60,196.40 C94.66,199.20 95.19,202.53 95.80,206.20 C96.56,210.82 97.02,216.71 97.50,222.00 C97.98,227.31 98.34,232.84 98.70,238.00 C99.04,242.82 99.33,247.37 99.60,252.00 C99.86,256.54 99.94,265.49 100.30,265.50 C100.59,265.51 101.05,259.95 101.40,257.00 C101.78,253.80 102.12,250.24 102.50,247.00 C102.86,243.92 103.23,240.81 103.60,238.00 C103.93,235.52 104.25,233.07 104.60,231.00 C104.89,229.33 105.09,227.66 105.50,226.50 C105.78,225.71 106.15,224.62 106.50,224.60 C106.82,224.58 107.21,225.25 107.50,226.00 C108.25,227.96 108.39,233.75 108.80,237.70 C109.22,241.75 109.64,246.34 110.00,250.00 C110.29,252.95 110.48,255.38 110.80,258.00 C111.11,260.54 111.53,265.50 111.90,265.50 C112.27,265.50 112.73,260.55 113.00,258.00 C113.27,255.38 113.30,252.95 113.50,250.00 C113.75,246.34 114.08,241.56 114.40,237.70 C114.68,234.27 114.98,231.01 115.30,228.00 C115.58,225.36 115.80,223.35 116.20,220.60 C116.71,217.10 117.20,212.30 118.20,208.70 C119.08,205.55 120.49,202.23 121.60,200.10 C122.31,198.73 122.76,197.90 123.70,196.90 C124.82,195.70 126.28,194.49 128.10,193.60 C130.43,192.46 133.72,191.85 136.80,191.20 C140.21,190.48 144.06,190.02 147.70,189.60 C151.33,189.18 154.59,188.96 158.60,188.70 C163.51,188.38 170.90,188.10 175.00,187.90 C177.46,187.78 178.89,187.56 180.90,187.60 C183.02,187.64 185.68,187.49 187.40,188.20 C188.79,188.77 189.69,190.07 190.70,190.90 C191.57,191.61 192.25,192.89 193.10,192.90 C194.06,192.91 195.03,191.11 196.20,190.40 C197.47,189.62 198.82,188.92 200.50,188.50 C202.66,187.96 205.41,188.01 208.20,187.90 C211.52,187.77 215.69,187.72 219.10,187.90 C222.14,188.06 225.11,188.19 227.70,188.80 C229.95,189.33 231.80,190.90 233.80,191.10 C235.63,191.28 237.24,190.57 239.20,190.20 C241.54,189.76 244.32,189.00 246.90,188.60 C249.46,188.20 252.29,187.96 254.60,187.80 C256.47,187.67 258.00,187.67 259.70,187.60" stroke="#0065b3"/><path d="M40.20,207.00 C40.63,205.83 41.05,204.71 41.50,203.50 C41.98,202.21 42.41,200.77 43.00,199.50 C43.58,198.27 44.20,196.98 45.00,196.00 C45.73,195.11 46.56,194.30 47.50,193.80 C48.43,193.31 49.70,192.80 50.60,193.00 C51.45,193.19 52.22,194.00 52.80,194.80 C53.48,195.75 53.80,197.23 54.20,198.50 C54.61,199.80 54.88,201.50 55.20,202.50 C55.40,203.13 55.58,203.99 55.80,204.00 C56.02,204.01 56.29,203.11 56.50,202.50 C56.80,201.64 57.00,200.53 57.30,199.30 C57.71,197.63 58.00,195.09 58.70,193.40 C59.30,191.97 59.98,190.35 61.00,189.70 C61.88,189.14 62.95,189.48 64.20,189.30 C65.99,189.04 68.25,188.44 70.70,188.20 C73.86,187.89 78.59,187.72 81.60,187.90 C83.75,188.03 85.55,188.19 87.10,188.70 C88.35,189.11 89.35,189.46 90.30,190.40 C91.61,191.69 92.72,194.08 93.60,196.40 C94.66,199.20 95.19,202.53 95.80,206.20 C96.56,210.82 97.02,216.71 97.50,222.00 C97.98,227.31 98.34,232.84 98.70,238.00 C99.04,242.82 99.33,247.37 99.60,252.00 C99.86,256.54 99.94,265.49 100.30,265.50 C100.59,265.51 101.05,259.95 101.40,257.00 C101.78,253.80 102.12,250.24 102.50,247.00 C102.86,243.92 103.23,240.81 103.60,238.00 C103.93,235.52 104.25,233.07 104.60,231.00 C104.89,229.33 105.09,227.66 105.50,226.50 C105.78,225.71 106.15,224.62 106.50,224.60 C106.82,224.58 107.21,225.25 107.50,226.00 C108.25,227.96 108.39,233.75 108.80,237.70 C109.22,241.75 109.64,246.34 110.00,250.00 C110.29,252.95 110.48,255.38 110.80,258.00 C111.11,260.54 111.53,265.50 111.90,265.50 C112.27,265.50 112.73,260.55 113.00,258.00 C113.27,255.38 113.30,252.95 113.50,250.00 C113.75,246.34 114.08,241.56 114.40,237.70 C114.68,234.27 114.98,231.01 115.30,228.00 C115.58,225.36 115.80,223.35 116.20,220.60 C116.71,217.10 117.20,212.30 118.20,208.70 C119.08,205.55 120.49,202.23 121.60,200.10 C122.31,198.73 122.76,197.90 123.70,196.90 C124.82,195.70 126.28,194.49 128.10,193.60 C130.43,192.46 133.72,191.85 136.80,191.20 C140.21,190.48 144.06,190.02 147.70,189.60 C151.33,189.18 154.59,188.96 158.60,188.70 C163.51,188.38 170.90,188.10 175.00,187.90 C177.46,187.78 178.89,187.56 180.90,187.60 C183.02,187.64 185.68,187.49 187.40,188.20 C188.79,188.77 189.69,190.07 190.70,190.90 C191.57,191.61 192.25,192.89 193.10,192.90 C194.06,192.91 195.03,191.11 196.20,190.40 C197.47,189.62 198.82,188.92 200.50,188.50 C202.66,187.96 205.41,188.01 208.20,187.90 C211.52,187.77 215.69,187.72 219.10,187.90 C222.14,188.06 225.11,188.19 227.70,188.80 C229.95,189.33 231.80,190.90 233.80,191.10 C235.63,191.28 237.24,190.57 239.20,190.20 C241.54,189.76 244.32,189.00 246.90,188.60 C249.46,188.20 252.29,187.96 254.60,187.80 C256.47,187.67 258.00,187.67 259.70,187.60" stroke="#f8ac00" stroke-dasharray="8.6 5.4"/></g>
<path d="M40.00,182.50 H259.70 V315.30 H40.00 Z" fill="none" stroke="#1a1a1a" stroke-width="1.4"/>
<path d="M94.92,315.30 v-2.2 M149.85,315.30 v-2.2 M204.77,315.30 v-2.2 M40.00,302.02 h2.2 M40.00,288.74 h2.2 M40.00,275.46 h2.2 M40.00,262.18 h2.2 M40.00,248.90 h2.2 M40.00,235.62 h2.2 M40.00,222.34 h2.2 M40.00,209.06 h2.2 M40.00,195.78 h2.2 " stroke="#1a1a1a" stroke-width="1.2" fill="none"/>
<text x="33.50" y="188.80" text-anchor="end">1</text>
<text x="38.30" y="197.50" text-anchor="end">0.9</text>
<text x="38.30" y="210.85" text-anchor="end">0.8</text>
<text x="38.30" y="224.20" text-anchor="end">0.7</text>
<text x="38.30" y="237.55" text-anchor="end">0.6</text>
<text x="38.30" y="250.90" text-anchor="end">0.5</text>
<text x="38.30" y="264.25" text-anchor="end">0.4</text>
<text x="38.30" y="277.60" text-anchor="end">0.3</text>
<text x="38.30" y="290.95" text-anchor="end">0.2</text>
<text x="38.30" y="304.30" text-anchor="end">0.1</text>
<text x="33.80" y="314.70" text-anchor="end">0</text>
<text x="39.30" y="327.20" text-anchor="middle">500</text>
<text x="94.22" y="327.20" text-anchor="middle">600</text>
<text x="149.15" y="327.20" text-anchor="middle">700</text>
<text x="204.07" y="327.20" text-anchor="middle">800</text>
<text x="259.00" y="327.20" text-anchor="middle">900</text>
<text x="107.00" y="339.90" style="font-size:14.25px">Wavelength[nm]</text>
<text transform="translate(18.60,290.70) rotate(-90)" style="font-size:14.25px">Reflection[a.u.]</text>
<text x="42.70" y="311.00">(c)</text>
<line x1="183.00" y1="272.00" x2="204.80" y2="272.00" stroke="#009a3e" stroke-width="2.00"/>
<text x="205.40" y="275.80" style="font-size:11.6px;stroke-width:0.25px">0 nm(real)</text>
<line x1="183.00" y1="282.80" x2="204.80" y2="282.80" stroke="#ee0000" stroke-width="2.00" stroke-dasharray="7.6 3.4"/>
<text x="205.40" y="286.30" style="font-size:11.6px;stroke-width:0.25px">0 nm(pred)</text>
<line x1="183.00" y1="293.40" x2="204.80" y2="293.40" stroke="#0065b3" stroke-width="2.00"/>
<text x="205.40" y="296.80" style="font-size:11.6px;stroke-width:0.25px">1 nm(real)</text>
<line x1="183.00" y1="304.30" x2="204.80" y2="304.30" stroke="#f8ac00" stroke-width="2.00" stroke-dasharray="7.6 3.4"/>
<text x="205.40" y="307.20" style="font-size:11.6px;stroke-width:0.25px">1 nm(pred)</text>
<clipPath id="clipd"><rect x="313.90" y="179.40" width="219.60" height="134.70"/></clipPath>
<g clip-path="url(#clipd)" fill="none" stroke-width="2.40"><path d="M313.90,222.00 C314.97,221.60 316.10,220.76 317.10,220.80 C318.02,220.83 318.92,221.33 319.70,222.00 C320.70,222.86 321.54,224.29 322.30,225.90 C323.33,228.09 324.11,231.11 324.80,234.20 C325.64,237.98 326.11,243.23 326.70,247.00 C327.16,249.98 327.61,252.01 328.00,255.00 C328.50,258.76 328.88,264.01 329.30,267.80 C329.64,270.84 329.91,273.42 330.30,276.00 C330.65,278.32 331.08,282.60 331.50,282.60 C331.92,282.60 332.43,278.33 332.80,276.00 C333.21,273.42 333.50,270.50 333.80,267.80 C334.10,265.17 334.34,263.04 334.60,260.00 C334.97,255.71 335.16,249.41 335.70,244.50 C336.19,240.02 336.71,235.39 337.60,231.70 C338.31,228.77 339.30,226.45 340.20,224.00 C341.04,221.73 341.93,219.45 342.80,217.50 C343.53,215.85 344.10,214.34 345.00,213.00 C345.85,211.72 346.62,210.64 348.00,209.60 C349.93,208.15 352.89,206.88 356.00,205.80 C359.95,204.43 365.32,203.47 370.00,202.60 C374.62,201.74 379.53,201.23 383.90,200.60 C387.81,200.04 391.31,199.45 395.00,199.00 C398.65,198.55 402.27,198.23 405.90,197.90 C409.53,197.57 413.49,197.18 416.80,197.00 C419.56,196.85 422.44,196.33 424.40,196.80 C425.78,197.13 426.82,197.65 427.70,198.60 C428.75,199.73 429.36,201.71 429.90,203.50 C430.50,205.50 430.65,208.01 431.00,210.10 C431.32,211.99 431.54,215.49 431.90,215.50 C432.27,215.51 432.82,212.07 433.20,210.10 C433.65,207.77 433.64,204.55 434.30,202.40 C434.82,200.71 435.33,199.18 436.40,198.10 C437.49,197.00 439.15,196.44 440.80,195.90 C442.72,195.27 445.03,195.06 447.30,194.80 C449.75,194.51 451.67,194.50 455.00,194.30 C461.16,193.92 472.16,193.28 481.30,192.80 C491.25,192.28 503.13,191.70 512.50,191.30 C520.19,190.97 526.50,190.77 533.50,190.50" stroke="#009a3e"/><path d="M313.90,222.00 C314.97,221.60 316.10,220.76 317.10,220.80 C318.02,220.83 318.92,221.33 319.70,222.00 C320.70,222.86 321.54,224.29 322.30,225.90 C323.33,228.09 324.11,231.11 324.80,234.20 C325.64,237.98 326.11,243.23 326.70,247.00 C327.16,249.98 327.61,252.01 328.00,255.00 C328.50,258.76 328.88,264.01 329.30,267.80 C329.64,270.84 329.91,273.42 330.30,276.00 C330.65,278.32 331.08,282.60 331.50,282.60 C331.92,282.60 332.43,278.33 332.80,276.00 C333.21,273.42 333.50,270.50 333.80,267.80 C334.10,265.17 334.34,263.04 334.60,260.00 C334.97,255.71 335.16,249.41 335.70,244.50 C336.19,240.02 336.71,235.39 337.60,231.70 C338.31,228.77 339.30,226.45 340.20,224.00 C341.04,221.73 341.93,219.45 342.80,217.50 C343.53,215.85 344.10,214.34 345.00,213.00 C345.85,211.72 346.62,210.64 348.00,209.60 C349.93,208.15 352.89,206.88 356.00,205.80 C359.95,204.43 365.32,203.47 370.00,202.60 C374.62,201.74 379.53,201.23 383.90,200.60 C387.81,200.04 391.31,199.45 395.00,199.00 C398.65,198.55 402.27,198.23 405.90,197.90 C409.53,197.57 413.49,197.18 416.80,197.00 C419.56,196.85 422.44,196.33 424.40,196.80 C425.78,197.13 426.82,197.65 427.70,198.60 C428.75,199.73 429.36,201.71 429.90,203.50 C430.50,205.50 430.65,208.01 431.00,210.10 C431.32,211.99 431.54,215.49 431.90,215.50 C432.27,215.51 432.82,212.07 433.20,210.10 C433.65,207.77 433.64,204.55 434.30,202.40 C434.82,200.71 435.33,199.18 436.40,198.10 C437.49,197.00 439.15,196.44 440.80,195.90 C442.72,195.27 445.03,195.06 447.30,194.80 C449.75,194.51 451.67,194.50 455.00,194.30 C461.16,193.92 472.16,193.28 481.30,192.80 C491.25,192.28 503.13,191.70 512.50,191.30 C520.19,190.97 526.50,190.77 533.50,190.50" stroke="#ee0000" stroke-dasharray="8.6 5.4"/><path d="M313.90,291.50 C314.97,291.73 316.15,291.69 317.10,292.20 C318.10,292.73 318.84,293.85 319.70,294.70 C320.57,295.55 321.45,296.68 322.30,297.30 C322.95,297.78 323.55,298.38 324.20,298.30 C325.01,298.19 325.94,297.00 326.70,296.00 C327.69,294.70 328.43,292.60 329.30,290.90 C330.17,289.20 330.97,287.26 331.90,285.80 C332.69,284.57 333.50,283.15 334.40,282.60 C335.04,282.21 335.85,282.06 336.40,282.20 C336.89,282.32 337.10,283.15 337.60,283.20 C338.28,283.27 339.55,282.50 340.20,281.80 C340.88,281.06 341.08,279.93 341.50,278.80 C342.02,277.40 342.57,275.55 343.00,274.00 C343.40,272.56 343.65,271.40 344.00,269.80 C344.46,267.70 344.99,264.87 345.50,262.50 C345.99,260.24 346.47,257.98 347.00,255.90 C347.48,254.00 347.98,252.22 348.50,250.50 C348.98,248.90 349.40,247.49 350.00,245.90 C350.67,244.11 351.54,242.03 352.40,240.30 C353.18,238.72 353.98,237.34 354.90,235.90 C355.85,234.41 356.82,232.82 358.00,231.50 C359.16,230.19 360.53,229.02 361.90,228.00 C363.21,227.03 364.52,226.11 366.00,225.50 C367.52,224.87 369.44,223.93 370.90,224.30 C372.41,224.68 373.83,226.16 374.90,227.90 C376.46,230.43 377.15,235.20 377.90,238.90 C378.64,242.57 378.96,245.97 379.40,250.00 C379.92,254.77 380.30,260.47 380.70,265.70 C381.10,270.91 381.39,275.91 381.80,281.30 C382.25,287.11 382.78,299.40 383.30,299.40 C383.82,299.40 384.49,287.11 384.90,281.30 C385.28,275.91 385.32,270.90 385.70,265.70 C386.08,260.47 386.79,254.65 387.20,250.00 C387.53,246.29 387.70,243.46 388.00,240.00 C388.33,236.28 388.53,231.73 389.10,228.40 C389.54,225.81 390.05,223.60 390.80,221.60 C391.44,219.90 392.06,218.53 393.10,217.10 C394.28,215.48 396.08,213.68 397.70,212.50 C399.13,211.46 400.58,210.92 402.20,210.20 C403.99,209.41 405.85,208.72 408.00,208.00 C410.61,207.12 413.86,206.15 416.80,205.40 C419.69,204.66 423.19,203.60 425.50,203.50 C427.02,203.44 428.25,203.42 429.30,204.00 C430.36,204.58 431.11,205.86 431.80,207.00 C432.54,208.23 433.00,209.78 433.50,211.20 C434.00,212.61 434.43,214.10 434.80,215.50 C435.15,216.83 435.36,219.39 435.70,219.40 C436.08,219.41 436.65,216.32 437.00,214.70 C437.36,213.02 437.35,211.12 437.80,209.50 C438.21,208.00 438.75,206.53 439.50,205.30 C440.20,204.15 441.12,203.03 442.10,202.30 C442.98,201.65 444.07,201.28 445.00,201.00 C445.80,200.76 446.31,200.78 447.30,200.60 C449.11,200.28 452.22,199.65 455.00,199.20 C458.25,198.68 461.72,198.20 465.60,197.70 C470.32,197.10 476.07,196.45 481.30,195.90 C486.51,195.35 491.70,194.83 496.90,194.40 C502.10,193.97 506.91,193.60 512.50,193.30 C518.98,192.95 526.50,192.77 533.50,192.50" stroke="#0065b3"/><path d="M313.90,291.50 C314.97,291.73 316.15,291.69 317.10,292.20 C318.10,292.73 318.84,293.85 319.70,294.70 C320.57,295.55 321.45,296.68 322.30,297.30 C322.95,297.78 323.55,298.38 324.20,298.30 C325.01,298.19 325.94,297.00 326.70,296.00 C327.69,294.70 328.43,292.60 329.30,290.90 C330.17,289.20 330.97,287.26 331.90,285.80 C332.69,284.57 333.50,283.15 334.40,282.60 C335.04,282.21 335.85,282.06 336.40,282.20 C336.89,282.32 337.10,283.15 337.60,283.20 C338.28,283.27 339.55,282.50 340.20,281.80 C340.88,281.06 341.08,279.93 341.50,278.80 C342.02,277.40 342.57,275.55 343.00,274.00 C343.40,272.56 343.65,271.40 344.00,269.80 C344.46,267.70 344.99,264.87 345.50,262.50 C345.99,260.24 346.47,257.98 347.00,255.90 C347.48,254.00 347.98,252.22 348.50,250.50 C348.98,248.90 349.40,247.49 350.00,245.90 C350.67,244.11 351.54,242.03 352.40,240.30 C353.18,238.72 353.98,237.34 354.90,235.90 C355.85,234.41 356.82,232.82 358.00,231.50 C359.16,230.19 360.53,229.02 361.90,228.00 C363.21,227.03 364.52,226.11 366.00,225.50 C367.52,224.87 369.44,223.93 370.90,224.30 C372.41,224.68 373.83,226.16 374.90,227.90 C376.46,230.43 377.15,235.20 377.90,238.90 C378.64,242.57 378.96,245.97 379.40,250.00 C379.92,254.77 380.30,260.47 380.70,265.70 C381.10,270.91 381.39,275.91 381.80,281.30 C382.25,287.11 382.78,299.40 383.30,299.40 C383.82,299.40 384.49,287.11 384.90,281.30 C385.28,275.91 385.32,270.90 385.70,265.70 C386.08,260.47 386.79,254.65 387.20,250.00 C387.53,246.29 387.70,243.46 388.00,240.00 C388.33,236.28 388.53,231.73 389.10,228.40 C389.54,225.81 390.05,223.60 390.80,221.60 C391.44,219.90 392.06,218.53 393.10,217.10 C394.28,215.48 396.08,213.68 397.70,212.50 C399.13,211.46 400.58,210.92 402.20,210.20 C403.99,209.41 405.85,208.72 408.00,208.00 C410.61,207.12 413.86,206.15 416.80,205.40 C419.69,204.66 423.19,203.60 425.50,203.50 C427.02,203.44 428.25,203.42 429.30,204.00 C430.36,204.58 431.11,205.86 431.80,207.00 C432.54,208.23 433.00,209.78 433.50,211.20 C434.00,212.61 434.43,214.10 434.80,215.50 C435.15,216.83 435.36,219.39 435.70,219.40 C436.08,219.41 436.65,216.32 437.00,214.70 C437.36,213.02 437.35,211.12 437.80,209.50 C438.21,208.00 438.75,206.53 439.50,205.30 C440.20,204.15 441.12,203.03 442.10,202.30 C442.98,201.65 444.07,201.28 445.00,201.00 C445.80,200.76 446.31,200.78 447.30,200.60 C449.11,200.28 452.22,199.65 455.00,199.20 C458.25,198.68 461.72,198.20 465.60,197.70 C470.32,197.10 476.07,196.45 481.30,195.90 C486.51,195.35 491.70,194.83 496.90,194.40 C502.10,193.97 506.91,193.60 512.50,193.30 C518.98,192.95 526.50,192.77 533.50,192.50" stroke="#f8ac00" stroke-dasharray="8.6 5.4"/></g>
<path d="M313.90,182.40 H533.50 V314.10 H313.90 Z" fill="none" stroke="#1a1a1a" stroke-width="1.4"/>
<path d="M368.80,314.10 v-2.2 M423.70,314.10 v-2.2 M478.60,314.10 v-2.2 M313.90,287.76 h2.2 M313.90,261.42 h2.2 M313.90,235.08 h2.2 M313.90,208.74 h2.2 " stroke="#1a1a1a" stroke-width="1.2" fill="none"/>
<text x="307.60" y="191.30" text-anchor="end">1</text>
<text x="313.00" y="210.50" text-anchor="end">0.9</text>
<text x="313.00" y="236.60" text-anchor="end">0.8</text>
<text x="313.00" y="263.60" text-anchor="end">0.7</text>
<text x="313.00" y="290.00" text-anchor="end">0.6</text>
<text x="313.00" y="313.90" text-anchor="end">0.5</text>
<text x="313.20" y="327.10" text-anchor="middle">500</text>
<text x="368.10" y="327.10" text-anchor="middle">600</text>
<text x="423.00" y="327.10" text-anchor="middle">700</text>
<text x="477.90" y="327.10" text-anchor="middle">800</text>
<text x="532.80" y="327.10" text-anchor="middle">900</text>
<text x="381.70" y="340.10" style="font-size:14.25px">Wavelength[nm]</text>
<text transform="translate(291.60,287.70) rotate(-90)" style="font-size:14.25px">Reflection[a.u.]</text>
<text x="316.00" y="310.50">(d)</text>
<line x1="456.40" y1="272.50" x2="477.30" y2="272.50" stroke="#009a3e" stroke-width="2.00"/>
<text x="478.20" y="276.20" style="font-size:11.6px;stroke-width:0.25px">0 nm(real)</text>
<line x1="456.40" y1="283.10" x2="477.30" y2="283.10" stroke="#ee0000" stroke-width="2.00" stroke-dasharray="7.6 3.4"/>
<text x="478.20" y="286.70" style="font-size:11.6px;stroke-width:0.25px">0 nm(pred)</text>
<line x1="456.40" y1="294.00" x2="477.30" y2="294.00" stroke="#0065b3" stroke-width="2.00"/>
<text x="478.20" y="297.20" style="font-size:11.6px;stroke-width:0.25px">1 nm(real)</text>
<line x1="456.40" y1="305.00" x2="477.30" y2="305.00" stroke="#f8ac00" stroke-width="2.00" stroke-dasharray="7.6 3.4"/>
<text x="478.20" y="307.60" style="font-size:11.6px;stroke-width:0.25px">1 nm(pred)</text>
</svg>
</body></html>
